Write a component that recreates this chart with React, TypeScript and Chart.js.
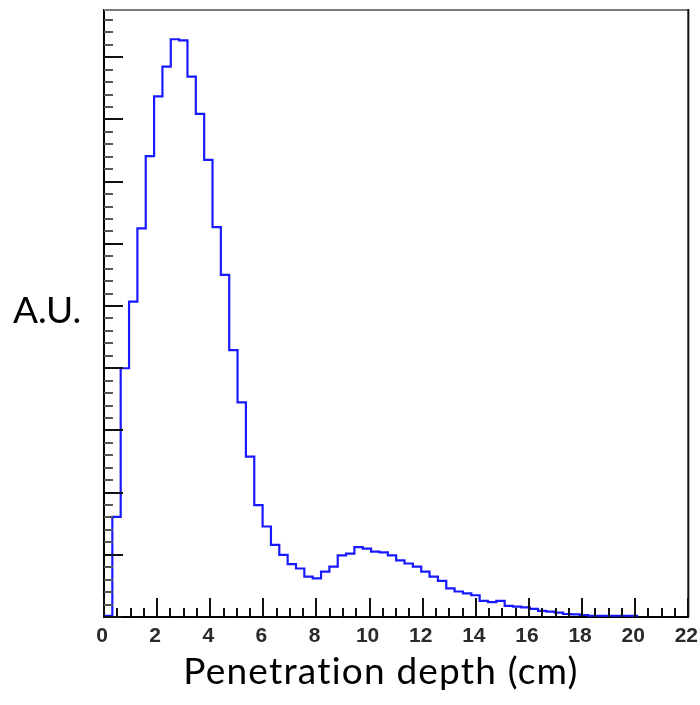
import { useEffect, useRef } from 'react';
import { Chart, registerables } from 'chart.js';

Chart.register(...registerables);

// ---- data ----
const X_MIN = 0;
const X_MAX = 22;
const BIN_COUNT_FULL_RANGE = 70; // 70 bins over 0..22 cm
const BIN_WIDTH = (X_MAX - X_MIN) / BIN_COUNT_FULL_RANGE;
const Y_MAX = 9.76;

// histogram heights (A.U.), one per bin starting at 0 cm
const BIN_VALUES = [
  0.02, 1.61, 4.0, 5.07, 6.25, 7.41, 8.37, 8.85, 9.29, 9.27,
  8.69, 8.09, 7.35, 6.27, 5.5, 4.29, 3.45, 2.58, 1.8, 1.455,
  1.16, 1.0, 0.85, 0.78, 0.65, 0.62, 0.73, 0.81, 0.99, 1.02,
  1.125, 1.1, 1.05, 1.04, 0.99, 0.91, 0.86, 0.81, 0.73, 0.65,
  0.58, 0.46, 0.41, 0.38, 0.35, 0.26, 0.24, 0.26, 0.18, 0.166,
  0.156, 0.13, 0.1, 0.085, 0.07, 0.048, 0.043, 0.032, 0.02, 0.02,
  0.02, 0.02, 0.02, 0.02,
];

const X_MAJOR_STEP = 2;
const X_MINOR_STEP = 0.5;
const Y_MAJOR_STEP = 1;
const Y_MINOR_STEP = 0.2;

const X_TITLE = 'Penetration depth (cm)';
const Y_TITLE = 'A.U.';

const framePlugin = {
  id: 'frame',
  afterDraw(chart: any) {
    const { ctx, chartArea } = chart;
    const { left, right, top, bottom } = chartArea;
    const xs = chart.scales.x;
    const ys = chart.scales.y;
    ctx.save();
    ctx.lineWidth = 2;

    // x ticks (inward)
    const nx = Math.round((X_MAX - X_MIN) / X_MINOR_STEP);
    const perMajorX = Math.round(X_MAJOR_STEP / X_MINOR_STEP);
    for (let k = 0; k <= nx; k++) {
      const v = X_MIN + k * X_MINOR_STEP;
      const px = Math.round(xs.getPixelForValue(v));
      const major = k % perMajorX === 0;
      ctx.strokeStyle = '#111';
      ctx.beginPath();
      ctx.moveTo(px, bottom);
      ctx.lineTo(px, bottom - (major ? 19 : 9));
      ctx.stroke();
    }

    // y ticks (inward)
    const ny = Math.floor(Y_MAX / Y_MINOR_STEP + 1e-6);
    const perMajorY = Math.round(Y_MAJOR_STEP / Y_MINOR_STEP);
    for (let k = 0; k <= ny; k++) {
      const v = k * Y_MINOR_STEP;
      const py = Math.round(ys.getPixelForValue(v));
      const major = k % perMajorY === 0;
      ctx.strokeStyle = major ? '#111' : '#555';
      ctx.beginPath();
      ctx.moveTo(left, py);
      ctx.lineTo(left + (major ? 19 : 9), py);
      ctx.stroke();
    }

    // top & right frame
    ctx.strokeStyle = '#7a7a7a';
    ctx.beginPath();
    ctx.moveTo(left, top);
    ctx.lineTo(right, top);
    ctx.stroke();
    ctx.strokeStyle = '#111';
    ctx.beginPath();
    ctx.moveTo(right, top - 1);
    ctx.lineTo(right, bottom);
    ctx.stroke();

    // titles
    ctx.fillStyle = '#000';
    ctx.textBaseline = 'alphabetic';
    ctx.font = '37px Lato';
    ctx.textAlign = 'left';
    ctx.fillText(Y_TITLE, 13, 323);
    (ctx as any).letterSpacing = '1.2px';
    ctx.textAlign = 'center';
    ctx.fillText(X_TITLE, 381, 684);
    ctx.restore();
  },
};

export default function App() {
  const ref = useRef<HTMLCanvasElement | null>(null);

  useEffect(() => {
    if (!ref.current) return;
    const points = BIN_VALUES.map((v, i) => ({ x: X_MIN + i * BIN_WIDTH, y: v }));
    points.push({ x: X_MIN + BIN_VALUES.length * BIN_WIDTH, y: BIN_VALUES[BIN_VALUES.length - 1] });

    const chart = new Chart(ref.current, {
      type: 'line',
      data: {
        datasets: [
          {
            data: points,
            stepped: 'before',
            borderColor: 'rgb(25,25,255)',
            borderWidth: 2.2,
            pointRadius: 0,
            fill: false,
          },
        ],
      },
      options: {
        responsive: false,
        animation: false,
        events: [],
        layout: { padding: { top: 10, right: 0, left: 0, bottom: 0 } },
        plugins: { legend: { display: false }, tooltip: { enabled: false } },
        scales: {
          x: {
            type: 'linear',
            min: X_MIN,
            max: X_MAX,
            afterFit: (s: any) => {
              s.height = 88;
            },
            grid: { display: false, drawTicks: false },
            border: { display: true, color: '#000', width: 2 },
            ticks: {
              stepSize: X_MAJOR_STEP,
              autoSkip: false,
              maxRotation: 0,
              padding: 0,
              labelOffset: -2,
              color: '#2a2a2a',
              font: { family: 'Liberation Sans', size: 21, weight: 'bold', lineHeight: 1.87 },
            },
          },
          y: {
            type: 'linear',
            min: 0,
            max: Y_MAX,
            afterFit: (s: any) => {
              s.width = 104;
            },
            grid: { display: false, drawTicks: false },
            border: { display: true, color: '#000', width: 2 },
            ticks: { display: false },
          },
        },
      },
      plugins: [framePlugin],
    });
    return () => chart.destroy();
  }, []);

  return (
    <div style={{ position: 'absolute', left: 0, top: 0, width: 700, height: 705, background: '#fff' }}>
      <canvas ref={ref} width={700} height={705} style={{ display: 'block' }} />
    </div>
  );
}
